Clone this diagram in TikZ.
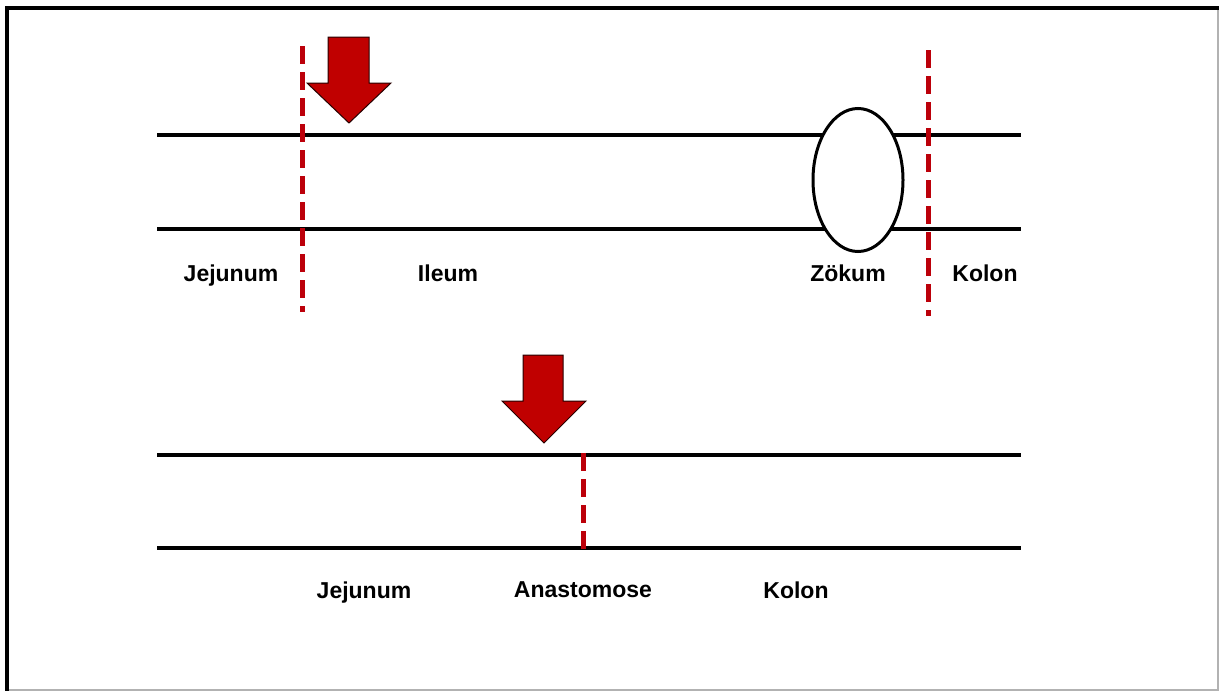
\documentclass[tikz,border=0pt]{standalone}
\usepackage{fontspec}
\setmainfont{Liberation Sans}
\usetikzlibrary{shapes.geometric}
\definecolor{arrowred}{RGB}{192,0,0}
\definecolor{cutred}{RGB}{188,0,10}
\begin{document}
\begin{tikzpicture}[x=1pt,y=-1pt,
  tube/.style={line width=3.3pt,black},
  cutline/.style={line width=5pt,cutred,dash pattern=on 18pt off 8pt},
  lbl/.style={font=\fontsize{23}{27}\selectfont\bfseries,inner sep=0pt,anchor=base},
  bigarrow/.style={fill=arrowred,draw=black!80!arrowred,line width=1pt,line join=miter}
]
\useasboundingbox (0,0) rectangle (1219,691);
% frame
\draw[line width=1.5pt,black!30] (1218,8) -- (1218,690) -- (7,690);
\draw[line width=4pt] (7,691) -- (7,8) -- (1219,8);

% ---- upper diagram ----
\coordinate (t1l) at (157,135); \coordinate (t1r) at (1021,135);
\coordinate (t2l) at (157,229); \coordinate (t2r) at (1021,229);
\draw[tube] (t1l) -- (t1r);
\draw[tube] (t2l) -- (t2r);
\node[ellipse, draw, line width=3pt, fill=white, minimum width=90pt, minimum height=143pt, inner sep=0pt] (zoek) at (858,180) {};
\coordinate (c1a) at (302,46); \coordinate (c1b) at (302,312);
\coordinate (c2a) at (928,50); \coordinate (c2b) at (928,316);
\draw[cutline] (c1a) -- (c1b);
\draw[cutline] (c2a) -- (c2b);
\draw[bigarrow] (328,37) -- (369,37) -- (369,83) -- (391,83) -- (349,123) -- (307,83) -- (328,83) -- cycle;
\node[lbl] (jej1) at (231,281) {Jejunum};
\node[lbl] (ile) at (448,281) {Ileum};
\node[lbl] (zoe) at (848,281) {Zökum};
\node[lbl] (kol1) at (985,281) {Kolon};

% ---- lower diagram ----
\coordinate (b1l) at (157,455); \coordinate (b1r) at (1021,455);
\coordinate (b2l) at (157,548); \coordinate (b2r) at (1021,548);
\draw[tube] (b1l) -- (b1r);
\draw[tube] (b2l) -- (b2r);
\coordinate (c3a) at (583,453); \coordinate (c3b) at (583,550);
\draw[cutline] (c3a) -- (c3b);
\draw[bigarrow] (523,355) -- (563,355) -- (563,401) -- (586,401) -- (544,443) -- (502,401) -- (523,401) -- cycle;
\node[lbl] (jej2) at (364,598) {Jejunum};
\node[lbl] (ana) at (583,597) {Anastomose};
\node[lbl] (kol2) at (796,598) {Kolon};
\end{tikzpicture}
\end{document}
